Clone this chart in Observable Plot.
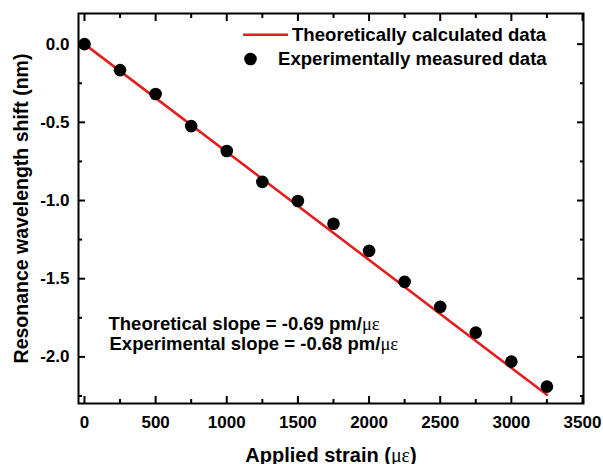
<!DOCTYPE html>
<html>
<head>
<meta charset="utf-8">
<script src="https://cdn.jsdelivr.net/npm/d3@7"></script>
<script src="https://cdn.jsdelivr.net/npm/@observablehq/plot@0.6"></script>
<style>
  html, body { margin: 0; padding: 0; background: #fff; }
</style>
</head>
<body>
<div id="chart"></div>
<script>
// Experimentally measured data
const strain = [0, 250, 500, 750, 1000, 1250, 1500, 1750, 2000, 2250, 2500, 2750, 3000, 3250];
const shift = [0, -0.166, -0.319, -0.524, -0.683, -0.881, -1.003, -1.149, -1.322, -1.52, -1.68, -1.845, -2.03, -2.19];

// Theoretically calculated line (slope -0.69 pm/με)
const theoryStrain = [0, 3250];
const theoryShift = [0, -2.2425];

// Ticks
const xTicks = [0, 500, 1000, 1500, 2000, 2500, 3000, 3500];
const xMinorTicks = [250, 750, 1250, 1750, 2250, 2750, 3250];
const yTicks = [0, -0.5, -1.0, -1.5, -2.0];
const yMinorTicks = [-0.25, -0.75, -1.25, -1.75, -2.25];

// Texts
const xTitle = "Applied strain (με)";
const yTitle = "Resonance wavelength shift (nm)";
const legendLabels = ["Theoretically calculated data", "Experimentally measured data"];
const notes = ["Theoretical slope = -0.69 pm/με", "Experimental slope = -0.68 pm/με"];

const measured = strain.map((x, i) => ({x, y: shift[i]}));
const theory = theoryStrain.map((x, i) => ({x, y: theoryShift[i]}));

const RED = "#e21f1f";
const FONT = "'Liberation Sans', Arial, Helvetica, sans-serif";

const legend = (index, scales, values, dims) => {
  const g = d3.create("svg:g")
    .attr("font-family", FONT)
    .attr("font-weight", "bold")
    .attr("font-size", 18.6)
    .attr("text-anchor", "start");
  g.append("line")
    .attr("x1", 243).attr("x2", 288).attr("y1", 34.7).attr("y2", 34.7)
    .attr("stroke", RED).attr("stroke-width", 2.6);
  g.append("text").attr("x", 292).attr("y", 40.6).attr("text-anchor", "start").text(legendLabels[0]);
  g.append("circle").attr("cx", 250.5).attr("cy", 59).attr("r", 6.3).attr("fill", "#000");
  g.append("text").attr("x", 278).attr("y", 65).attr("text-anchor", "start").text(legendLabels[1]);
  return g.node();
};

const chart = Plot.plot({
  width: 603,
  height: 464,
  marginLeft: 78,
  marginRight: 20,
  marginTop: 13,
  marginBottom: 61,
  x: {domain: [-42, 3507]},
  y: {domain: [-2.298, 0.196]},
  style: {fontFamily: FONT, fontWeight: "bold", background: "#fff", color: "#000", overflow: "visible"},
  marks: [
    // inward ticks on all four sides
    Plot.axisX(xTicks, {anchor: "bottom", tickSize: -7, text: null, label: null, strokeWidth: 2}),
    Plot.axisX(xMinorTicks, {anchor: "bottom", tickSize: -4, text: null, label: null, strokeWidth: 2}),
    Plot.axisX(xTicks, {anchor: "top", tickSize: -7, text: null, label: null, strokeWidth: 2}),
    Plot.axisX(xMinorTicks, {anchor: "top", tickSize: -4, text: null, label: null, strokeWidth: 2}),
    Plot.axisY(yTicks, {anchor: "left", tickSize: -7, text: null, label: null, strokeWidth: 2}),
    Plot.axisY(yMinorTicks, {anchor: "left", tickSize: -4, text: null, label: null, strokeWidth: 2}),
    Plot.axisY(yTicks, {anchor: "right", tickSize: -7, text: null, label: null, strokeWidth: 2}),
    Plot.axisY(yMinorTicks, {anchor: "right", tickSize: -4, text: null, label: null, strokeWidth: 2}),
    // tick labels
    Plot.axisX(xTicks, {anchor: "bottom", tickSize: 0, tickPadding: 12, label: null, fontSize: 17, fontWeight: "bold", tickFormat: d => String(d)}),
    Plot.axisY(yTicks, {anchor: "left", tickSize: 0, tickPadding: 9, label: null, fontSize: 17, fontWeight: "bold", tickFormat: d => d.toFixed(1)}),
    Plot.frame({strokeWidth: 2}),
    // data
    Plot.line(theory, {x: "x", y: "y", stroke: RED, strokeWidth: 2.6}),
    Plot.dot(measured, {x: "x", y: "y", r: 6.3, fill: "#000", stroke: "none"}),
    // titles
    Plot.text([xTitle], {frameAnchor: "bottom", dy: 51.6, textAnchor: "middle", fontSize: 20, fontWeight: "bold", lineAnchor: "middle"}),
    Plot.text([yTitle], {frameAnchor: "left", dx: -56.5, rotate: -90, textAnchor: "middle", fontSize: 19.5, fontWeight: "bold", lineAnchor: "middle"}),
    // annotations
    Plot.text([notes[0]], {frameAnchor: "top-left", dx: 30, dy: 316, textAnchor: "start", lineAnchor: "bottom", fontSize: 18.5, fontWeight: "bold"}),
    Plot.text([notes[1]], {frameAnchor: "top-left", dx: 31, dy: 336.5, textAnchor: "start", lineAnchor: "bottom", fontSize: 18.5, fontWeight: "bold"}),
    legend
  ]
});

// Greek μ ε in a lighter serif face like the original
chart.querySelectorAll("text").forEach(t => {
  if (t.children.length) return;
  const s = t.textContent;
  if (!s.includes("με")) return;
  const parts = s.split("με");
  t.textContent = "";
  t.append(parts[0]);
  const ts = document.createElementNS("http://www.w3.org/2000/svg", "tspan");
  ts.setAttribute("font-family", "'Liberation Serif', 'DejaVu Serif', serif");
  ts.setAttribute("font-weight", "normal");
  ts.textContent = "με";
  t.append(ts);
  t.append(parts[1]);
});

document.getElementById("chart").append(chart);
</script>
</body>
</html>
